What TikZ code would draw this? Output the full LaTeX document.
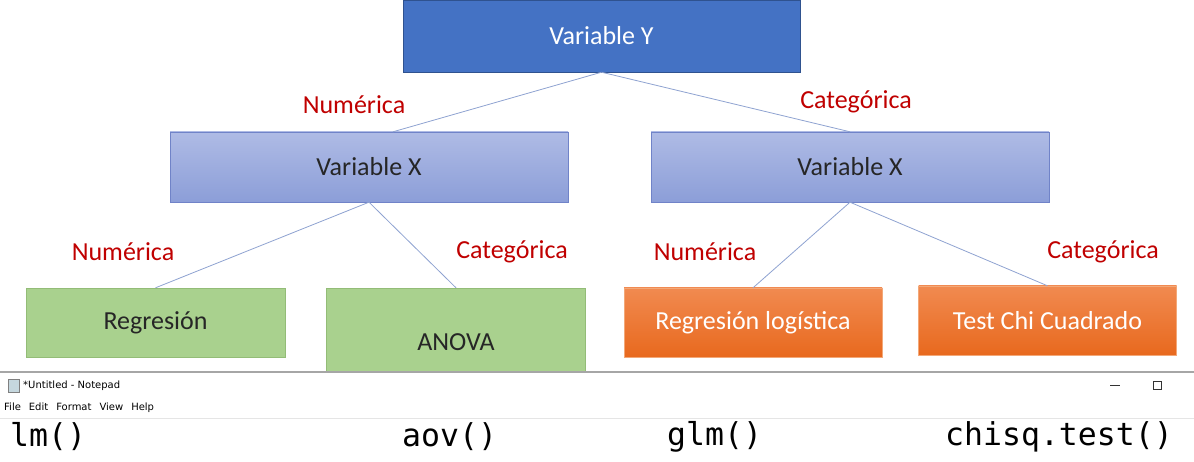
\documentclass[tikz,border=0pt]{standalone}
\usepackage{fontspec}
\setmainfont{Carlito}
\newfontfamily\codefont{DejaVu Sans Mono}
\newfontfamily\uifont{DejaVu Sans}
\definecolor{ybox}{HTML}{4472C4}
\definecolor{yedge}{HTML}{2F528F}
\definecolor{xtop}{HTML}{AFBBE5}
\definecolor{xbot}{HTML}{8C9ED8}
\definecolor{xedge}{HTML}{7083C8}
\definecolor{gbox}{HTML}{A9D18E}
\definecolor{gedge}{HTML}{93BC77}
\definecolor{otop}{HTML}{F18A50}
\definecolor{obot}{HTML}{E8691E}
\definecolor{oedge}{HTML}{F3A878}
\definecolor{lbl}{HTML}{C00000}
\definecolor{conn}{HTML}{8FA3D1}
\tikzset{
  box/.style={draw,inner sep=0pt,font=\fontsize{26}{30}\selectfont},
  ybox/.style={box,fill=ybox,draw=yedge,text=white,minimum width=397pt,minimum height=72pt},
  xbox/.style={box,top color=xtop,bottom color=xbot,draw=xedge,text=black!85,minimum width=398pt,minimum height=70pt},
  gbox/.style={box,fill=gbox,draw=gedge,text=black!85,minimum width=259pt,minimum height=69pt},
  obox/.style={box,top color=otop,bottom color=obot,draw=oedge,text=white,minimum width=258pt,minimum height=69pt},
  lbl/.style={text=lbl,font=\fontsize{26}{30}\selectfont},
  conn/.style={draw=conn,line width=0.8pt},
  ui/.style={font=\uifont\fontsize{10}{12}\selectfont,anchor=west,inner sep=0pt},
  code/.style={font=\codefont\fontsize{31.5}{36}\selectfont,anchor=west,inner sep=0pt}
}
\begin{document}
\begin{tikzpicture}[x=1pt,y=-1pt]
\useasboundingbox[fill=white] (0,0) rectangle (1194,462);
% tree
\node[ybox] (vy) at (601.5,36) {Variable Y};
\node[xbox] (vxl) at (369,167) {Variable X};
\node[xbox] (vxr) at (850,167) {Variable X};
\node[gbox] (reg) at (155.5,322.5) {Regresión};
\node[gbox,minimum height=108pt] (anova) at (456,342) {ANOVA};
\node[obox] (logit) at (753,322.5) {Regresión logística};
\node[obox] (chi) at (1047.5,320.5) {Test Chi Cuadrado};
\draw[conn] (vy.south) -- ([xshift=24pt]vxl.north);
\draw[conn] (vy.south) -- (vxr.north);
\draw[conn] (vxl.south) -- (reg.north);
\draw[conn] (vxl.south) -- (anova.north);
\draw[conn] (vxr.south) -- (logit.north);
\draw[conn] (vxr.south) -- (chi.north);
\node[lbl] (l1) at (354,105) {Numérica};
\node[lbl] (l2) at (856,102) {Categórica};
\node[lbl] (l3) at (123,252) {Numérica};
\node[lbl] (l4) at (512,252) {Categórica};
\node[lbl] (l5) at (705,252) {Numérica};
\node[lbl] (l6) at (1103,252) {Categórica};
% notepad
\fill[white] (0,372) rectangle (1194,462);
\draw[black!35,line width=1.5pt] (0,372) -- (1194,372);
\draw[black!10] (0,418) -- (1194,418);
\fill[cyan!30!gray!40,draw=gray] (8,379) rectangle (19,392);
\node[ui] (title) at (23,385.5) {*Untitled - Notepad};
\draw[black!80] (1110,385) -- (1120,385);
\draw[black!80] (1153,381) rectangle (1161,389);
\node[ui] (menu) at (4,408) {File\hspace{8pt}Edit\hspace{8pt}Format\hspace{8pt}View\hspace{8pt}Help};
\node[code] (c1) at (10,437) {lm()};
\node[code] (c2) at (402,437) {aov()};
\node[code] (c3) at (667,437) {glm()};
\node[code] (c4) at (945,437) {chisq.test()};
\end{tikzpicture}
\end{document}
